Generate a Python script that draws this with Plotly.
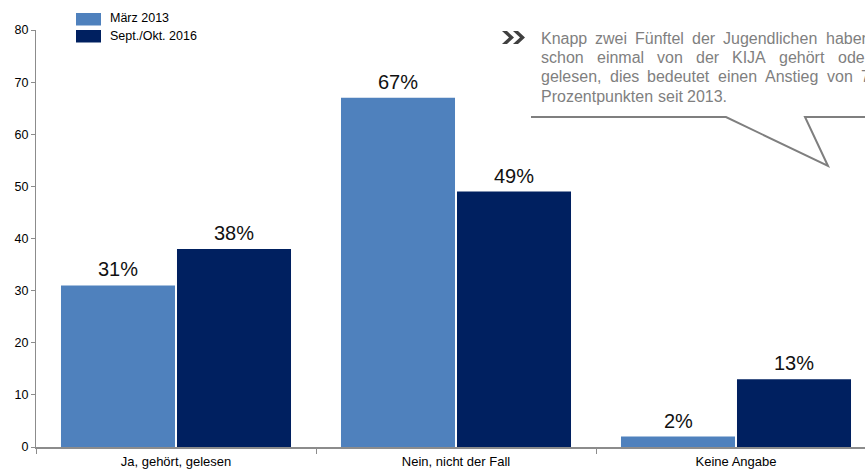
import plotly.graph_objects as go

# --- data -------------------------------------------------------------
categories = ["Ja, gehört, gelesen", "Nein, nicht der Fall", "Keine Angabe"]
series_names = ["März 2013", "Sept./Okt. 2016"]
values_2013 = [31, 67, 2]
values_2016 = [38, 49, 13]
y_ticks = [0, 10, 20, 30, 40, 50, 60, 70, 80]

callout_lines = [
    "Knapp zwei Fünftel der Jugendlichen haben",
    "schon einmal von der KIJA gehört oder",
    "gelesen, dies bedeutet einen Anstieg von 7",
    "Prozentpunkten seit 2013.",
]

# --- styling ----------------------------------------------------------
colors = ["#4F81BD", "#002060"]
FONT = "Liberation Sans, Arial, sans-serif"
W, H = 865, 470
M_L, M_T, M_B = 36, 30, 23
PLOT_W = W - M_L
PLOT_H = H - M_T - M_B
CAT_PX = 280.0  # pixel width of one category slot


def px(x):
    return (x - M_L) / PLOT_W


def py(y):
    return (H - M_B - y) / PLOT_H


fig = go.Figure()
for name, vals, col in zip(series_names, [values_2013, values_2016], colors):
    fig.add_trace(go.Bar(
        x=categories, y=vals, name=name,
        marker=dict(color=col, line=dict(width=0)),
        showlegend=False,
    ))

annotations = []
shapes = []

# value labels above each bar
offsets = [-58, 58]
for vals, dx in zip([values_2013, values_2016], offsets):
    for c, v in zip(categories, vals):
        annotations.append(dict(
            x=c, y=v, xref="x", yref="y", text=f"{v}%", showarrow=False,
            xshift=dx, yshift=3, yanchor="bottom", xanchor="center",
            font=dict(family=FONT, size=20, color="#111111"),
        ))

# legend drawn as swatches + labels
for i, (name, col) in enumerate(zip(series_names, colors)):
    y0 = 13 + i * 17
    shapes.append(dict(type="rect", xref="paper", yref="paper",
                       x0=px(76), x1=px(101), y0=py(y0), y1=py(y0 + 12.5),
                       fillcolor=col, line=dict(width=0)))
    annotations.append(dict(x=px(109), y=py(y0 + 5.5), xref="paper", yref="paper",
                            text=name, showarrow=False, xanchor="left",
                            yanchor="middle", borderpad=0,
                            font=dict(family=FONT, size=12.5, color="#000000")))

# callout text: justified paragraph laid out word by word
ADV = {"a": 556, "b": 556, "c": 500, "d": 556, "e": 556, "f": 278, "g": 556,
       "h": 556, "i": 222, "k": 500, "l": 222, "m": 833, "n": 556, "o": 556,
       "p": 556, "r": 333, "s": 500, "t": 278, "u": 556, "v": 500, "w": 722,
       "z": 500, "ü": 556, "ö": 556, "A": 667, "F": 611, "I": 278, "J": 500,
       "K": 667, "P": 667, ",": 278, ".": 278, " ": 278}
FS = 16
TEXT_L, TEXT_R = 541, 870


def width(s):
    return sum(ADV.get(ch, 556) for ch in s) * FS / 1000.0


line_y = [38, 57.5, 77, 96.5]
for li, (line, yy) in enumerate(zip(callout_lines, line_y)):
    words = line.split(" ")
    if li < len(callout_lines) - 1:
        total = sum(width(w) for w in words)
        gap = (TEXT_R - TEXT_L - total) / (len(words) - 1)
    else:
        gap = width(" ")
    x = TEXT_L
    for w in words:
        annotations.append(dict(x=px(x - 1), y=py(yy), xref="paper", yref="paper",
                                text=w, showarrow=False, xanchor="left",
                                yanchor="middle", borderpad=0,
                                font=dict(family=FONT, size=FS, color="#7f7f7f")))
        x += width(w) + gap

# double chevron bullet
def chevron(x0, y0, y1, w, t):
    ym = (y0 + y1) / 2
    pts = [(x0, y0), (x0 + t, y0), (x0 + t + w, ym), (x0 + t, y1), (x0, y1), (x0 + w, ym)]
    return "M " + " L ".join(f"{px(a):.5f},{py(b):.5f}" for a, b in pts) + " Z"

for x0 in (502, 513):
    shapes.append(dict(type="path", xref="paper", yref="paper",
                       path=chevron(x0, 31, 44, 7, 5),
                       fillcolor="#404040", line=dict(width=0)))

# speech-bubble outline under the callout
bubble = [(531, 117), (726, 117), (828, 166), (805, 117), (880, 117)]
bubble_path = "M " + " L ".join(f"{px(a):.5f},{py(b):.5f}" for a, b in bubble)
shapes.append(dict(type="path", xref="paper", yref="paper", path=bubble_path,
                   line=dict(color="#7f7f7f", width=2)))

fig.update_layout(
    width=W, height=H,
    margin=dict(l=M_L, r=0, t=M_T, b=M_B, pad=0),
    paper_bgcolor="white", plot_bgcolor="white",
    barmode="group", bargap=48 / CAT_PX, bargroupgap=0.017,
    annotations=annotations, shapes=shapes,
    font=dict(family=FONT, size=12, color="#000000"),
)
fig.update_xaxes(
    range=[-0.5, -0.5 + PLOT_W / CAT_PX],
    showline=True, linecolor="#8c8c8c", linewidth=2,
    ticks="outside", tickson="boundaries", ticklen=5, tickcolor="#8c8c8c",
    showgrid=False, zeroline=False, ticklabelstandoff=1,
    tickfont=dict(family=FONT, size=13, color="#000000"),
)
fig.update_yaxes(
    range=[0, 80], tickvals=y_ticks, ticktext=[str(t) for t in y_ticks],
    showline=True, linecolor="#8c8c8c", linewidth=1,
    ticks="outside", ticklen=4, tickcolor="#8c8c8c",
    showgrid=False, zeroline=False, ticklabelstandoff=0,
    tickfont=dict(family=FONT, size=12.5, color="#000000"),
)

fig.write_html("out.html")
